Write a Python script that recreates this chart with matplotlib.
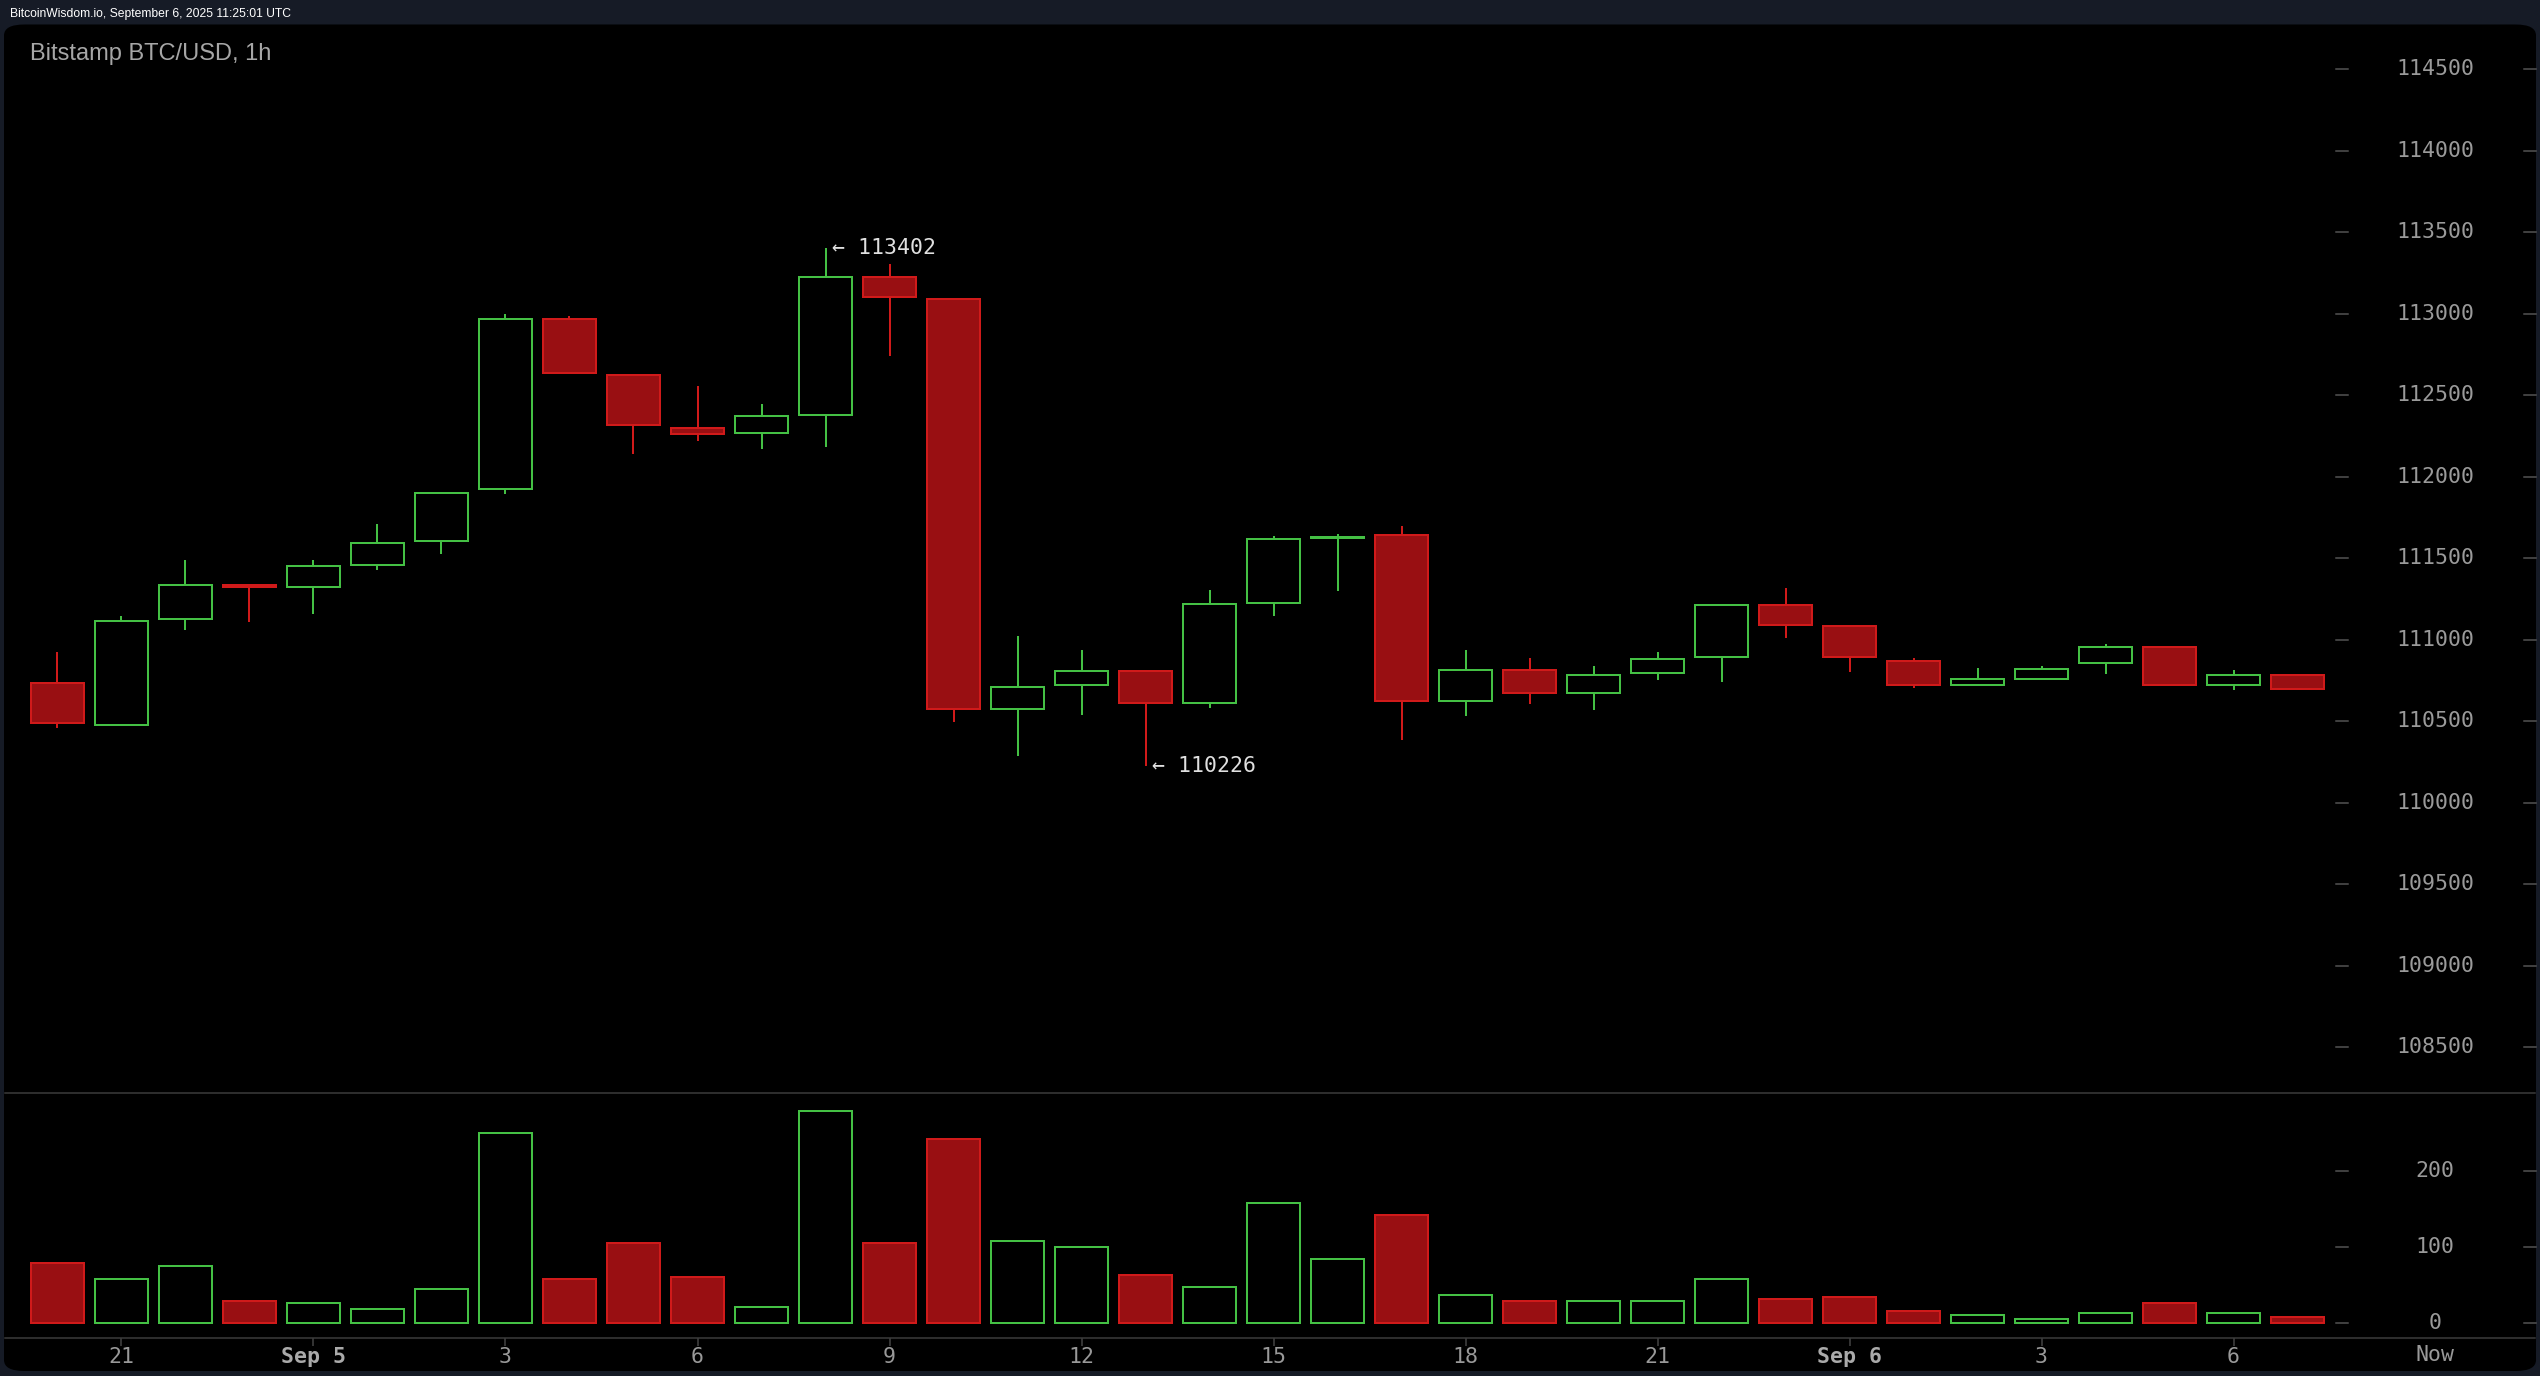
import matplotlib
matplotlib.use("Agg")
import matplotlib.pyplot as plt
from matplotlib.patches import FancyBboxPatch
from matplotlib.transforms import blended_transform_factory

# hourly candles, Sep 4 20:00 .. Sep 6 07:00 UTC
opens = [110736, 110479, 111129, 111340, 111323, 111462, 111607, 111925, 112972, 112626,
         112298, 112270, 112380, 113228, 113094, 110574, 110722, 110812, 110612, 111225,
         111628, 111646, 110624, 110814, 110673, 110798, 110896, 111217, 111084, 110873,
         110722, 110759, 110857, 110959, 110722, 110787]
highs = [110925, 111147, 111490, 111340, 111490, 111711, 111903, 113000, 112988, 112626,
         112558, 112448, 113402, 113307, 113094, 111025, 110939, 110812, 111304, 111638,
         111650, 111699, 110939, 110890, 110840, 110926, 111217, 111319, 111084, 110888,
         110826, 110838, 110974, 110959, 110814, 110787]
lows = [110460, 110479, 111063, 111110, 111161, 111430, 111528, 111896, 112636, 112143,
        112218, 112169, 112181, 112744, 110499, 110290, 110537, 110226, 110584, 111147,
        111298, 110388, 110536, 110609, 110572, 110756, 110744, 111014, 110806, 110707,
        110722, 110759, 110793, 110722, 110695, 110698]
closes = [110490, 111119, 111340, 111323, 111453, 111596, 111903, 112972, 112636, 112316,
          112265, 112371, 113228, 113103, 110574, 110713, 110812, 110612, 111218, 111621,
          111634, 110624, 110814, 110673, 110787, 110885, 111217, 111092, 110896, 110722,
          110763, 110824, 110959, 110722, 110787, 110698]
volumes = [79, 58, 74, 29, 26, 18, 45, 250, 58, 105,
           60, 21, 279, 105, 242, 108, 100, 63, 47, 158,
           84, 142, 37, 29, 29, 29, 58, 31, 34, 16,
           10, 5, 13, 26, 13, 8]

xtick_pos = [1, 4, 7, 10, 13, 16, 19, 22, 25, 28, 31, 34]
xtick_labels = ["21", "Sep 5", "3", "6", "9", "12", "15", "18", "21", "Sep 6", "3", "6"]
price_ticks = [108500, 109000, 109500, 110000, 110500, 111000, 111500,
               112000, 112500, 113000, 113500, 114000, 114500]
volume_ticks = [0, 100, 200]

W, H = 2540, 1376
GREEN = "#44c044"
RED_FILL = "#990f12"
RED_EDGE = "#d01a1a"
MONO = "DejaVu Sans Mono"
PX = 0.72  # points per pixel at dpi 100


def rect(x0, y0, x1, y1):
    return [x0 / W, 1 - y1 / H, (x1 - x0) / W, (y1 - y0) / H]


fig = plt.figure(figsize=(W / 100, H / 100), dpi=100, facecolor="#161b26")

panel = FancyBboxPatch((4 / W, 1 - 1371 / H), 2532 / W, (1371 - 24.5) / H,
                       boxstyle="round,pad=0,rounding_size=0.008",
                       transform=fig.transFigure, facecolor="black",
                       edgecolor="none", zorder=-10)
fig.patches.append(panel)

fig.text(10 / W, 1 - 14 / H, "BitcoinWisdom.io, September 6, 2025 11:25:01 UTC",
         color="white", fontsize=8.7, family="Liberation Sans", va="center")
fig.text(30 / W, 1 - 60 / H, "Bitstamp BTC/USD, 1h", color="#a6a6a6",
         fontsize=17, family="Liberation Sans", va="baseline")

xlim = (-0.82, 38.71)
ax_p = fig.add_axes(rect(5, 24, 2535, 1092.6))
ax_v = fig.add_axes(rect(5, 1092.6, 2535, 1338.3))
for ax in (ax_p, ax_v):
    ax.set_facecolor("none")
    ax.set_xlim(*xlim)
    ax.set_yticks([])
    for s in ax.spines.values():
        s.set_visible(False)
ax_p.set_ylim(108223, 114779)
ax_v.set_ylim(-20.5, 302.8)
ax_p.set_xticks([])

idx = list(range(len(opens)))
bw = 0.82
for i in idx:
    o, h, l, c = opens[i], highs[i], lows[i], closes[i]
    up = c >= o
    fc = "none" if up else RED_FILL
    ec = GREEN if up else RED_EDGE
    lo_b, hi_b = min(o, c), max(o, c)
    ax_p.bar(i, hi_b - lo_b, bottom=lo_b, width=bw, facecolor=fc, edgecolor=ec,
             linewidth=2 * PX, zorder=3)
    if h > hi_b:
        ax_p.vlines(i, hi_b, h, color=ec, linewidth=2 * PX, zorder=2)
    if l < lo_b:
        ax_p.vlines(i, l, lo_b, color=ec, linewidth=2 * PX, zorder=2)
    ax_v.bar(i, volumes[i], bottom=0, width=bw, facecolor=fc, edgecolor=ec,
             linewidth=2 * PX, zorder=3)

# high / low markers
hi_i = highs.index(max(highs))
lo_i = lows.index(min(lows))
ax_p.text(hi_i + 0.1, highs[hi_i], f"\u2190 {highs[hi_i]}", color="#e0e0e0",
          fontsize=15.5, family=MONO, va="center", ha="left")
ax_p.text(lo_i + 0.1, lows[lo_i], f"\u2190 {lows[lo_i]}", color="#e0e0e0",
          fontsize=15.5, family=MONO, va="center", ha="left")

# right-hand scales
for ax, ticks in ((ax_p, price_ticks), (ax_v, volume_ticks)):
    tr = blended_transform_factory(ax.transAxes, ax.transData)
    for t in ticks:
        ax.plot([0.9213, 0.9261], [t, t], transform=tr, color="#555555",
                linewidth=1.5 * PX, clip_on=False)
        ax.plot([0.9957, 1.0004], [t, t], transform=tr, color="#555555",
                linewidth=1.5 * PX, clip_on=False)
        ax.text(0.9605, t, str(t), transform=tr, color="#9a9a9a", fontsize=15.5,
                family=MONO, ha="center", va="center")

# volume panel frame lines and time axis
ax_v.spines["top"].set_visible(True)
ax_v.spines["bottom"].set_visible(True)
ax_v.spines["top"].set_color("#3c3c3c")
ax_v.spines["bottom"].set_color("#3c3c3c")
ax_v.spines["top"].set_linewidth(1.5 * PX)
ax_v.spines["bottom"].set_linewidth(1.5 * PX)
ax_v.set_xticks(xtick_pos)
ax_v.set_xticklabels(xtick_labels, family=MONO, fontsize=15.5)
ax_v.tick_params(axis="x", colors="#444444", labelcolor="#999999", length=8 * PX,
                 width=1.5 * PX, direction="out", pad=0.5)
for lab in ax_v.get_xticklabels():
    if lab.get_text().startswith("Sep"):
        lab.set_fontweight("bold")
        lab.set_color("#aaaaaa")
ax_v.text(0.9605, -0.067, "Now", transform=ax_v.transAxes, color="#999999",
          fontsize=15.5, family=MONO, ha="center", va="center")

fig.savefig("out.png", dpi=100, facecolor=fig.get_facecolor())
